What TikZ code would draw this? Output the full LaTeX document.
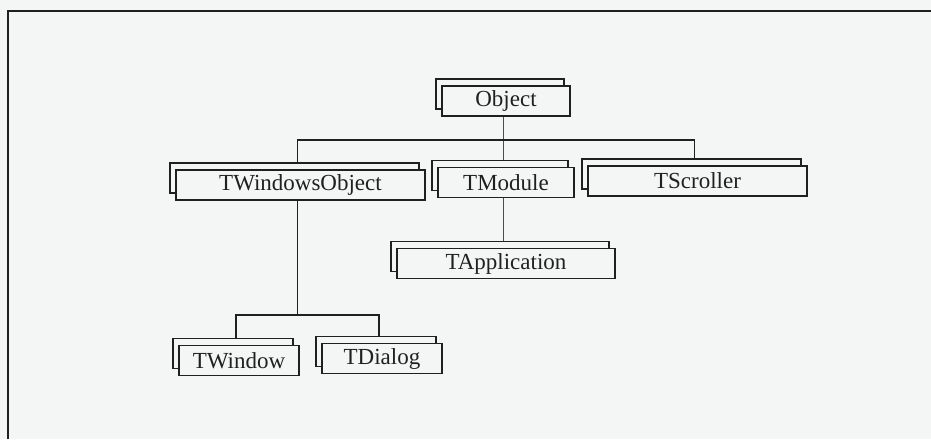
\documentclass[tikz,border=0pt]{standalone}
\usepackage{fontspec}
\setmainfont{Liberation Serif}
\usetikzlibrary{shadows}
\definecolor{bgc}{RGB}{244,246,245}
\definecolor{ink}{RGB}{32,32,32}
\begin{document}
\begin{tikzpicture}[x=1pt,y=-1pt,
  cls/.style={draw=ink, line width=1.2pt, fill=bgc, text=ink, minimum height=30pt,
    inner sep=0pt, font=\fontsize{23}{26}\selectfont,
    copy shadow={shadow xshift=-6pt, shadow yshift=7pt}},
  link/.style={draw=ink, line width=1.1pt},
  thinlink/.style={draw=ink!80, line width=0.9pt}]
\fill[bgc] (0,0) rectangle (931,439);
\useasboundingbox (0,0) rectangle (931,439);
\draw[line width=1.5pt, ink] (8,439) -- (8,11) -- (931,11);

\node[cls, minimum width=128pt] (Object) at (506,101) {Object};
\node[cls, minimum width=249pt] (TWO) at (300.5,185) {TWindowsObject};
\node[cls, minimum width=136pt] (TModule) at (506,182.5) {TModule};
\node[cls, minimum width=219pt] (TScroller) at (697.5,181) {TScroller};
\node[cls, minimum width=218pt] (TApp) at (506,263.5) {TApplication};
\node[cls, minimum width=120pt] (TWindow) at (239,360.5) {TWindow};
\node[cls, minimum width=120pt] (TDialog) at (382,358.5) {TDialog};

\coordinate (b1) at (503,140);
\coordinate (b2) at (297.5,315);

\draw[thinlink] ([xshift=-3pt]Object.south) -- ([xshift=-3pt,yshift=7pt]TModule.north);
\draw[link] ([xshift=-3pt,yshift=7pt]TWO.north) |- (b1) -| ([xshift=-3pt,yshift=7pt]TScroller.north);
\draw[thinlink] ([xshift=-3pt]TModule.south) -- ([xshift=-3pt,yshift=7pt]TApp.north);
\draw[link] ([xshift=-3pt]TWO.south) -- (b2);
\draw[link] ([xshift=-3pt,yshift=7pt]TWindow.north) |- (b2) -| ([xshift=-3pt,yshift=7pt]TDialog.north);
\end{tikzpicture}
\end{document}
